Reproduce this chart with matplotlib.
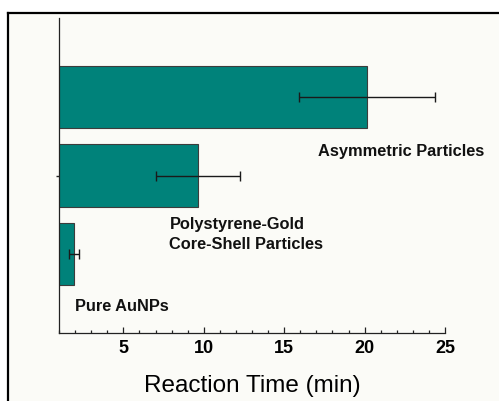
import matplotlib
matplotlib.use("Agg")
import matplotlib.pyplot as plt
from matplotlib.patches import Rectangle
from matplotlib.lines import Line2D
from matplotlib.ticker import MultipleLocator

plt.rcParams['font.family'] = ['Liberation Sans', 'DejaVu Sans']

# Data
categories = ["Pure AuNPs", "Polystyrene-Gold\nCore-Shell Particles", "Asymmetric Particles"]
reaction_time = [1.92, 9.65, 20.15]
reaction_err = [0.32, 2.6, 4.25]
x_ticks = [5, 10, 15, 20, 25]

W, H = 499, 401
fig = plt.figure(figsize=(W / 100, H / 100), dpi=100, facecolor="white")

# Off-white panel with a heavy top/left border
fig.patches.append(Rectangle((8 / W, 0), 1 - 8 / W, 1 - 12.5 / H, transform=fig.transFigure,
                             facecolor="#fbfbf7", edgecolor="none", zorder=-5))
fig.lines.append(Line2D([8 / W, 1], [1 - 12.5 / H, 1 - 12.5 / H], transform=fig.transFigure,
                        color="black", lw=1.6, zorder=-4))
fig.lines.append(Line2D([8 / W, 8 / W], [0, 1 - 12.5 / H], transform=fig.transFigure,
                        color="black", lw=1.6, zorder=-4))

ax = fig.add_axes([59 / W, 1 - 333 / H, (445 - 59) / W, (333 - 18) / H])
ax.set_zorder(2)
ax.set_facecolor("none")

pos = list(range(len(categories)))
ax.barh(pos, reaction_time, height=0.79, color="#00827a", edgecolor="#3c3c3c", linewidth=0.8,
        zorder=2)
ax.errorbar(reaction_time, pos, xerr=reaction_err, fmt="none", ecolor="#1a1a1a",
            elinewidth=1.0, capsize=3.3, capthick=1.0, zorder=3)

ax.set_xlim(1, 25)
ax.set_ylim(-1, 3)

for s in ("top", "right"):
    ax.spines[s].set_visible(False)
for s in ("left", "bottom"):
    ax.spines[s].set_linewidth(0.9)
    ax.spines[s].set_color("#222222")

ax.set_xticks(x_ticks)
ax.xaxis.set_minor_locator(MultipleLocator(1))
ax.tick_params(axis="x", which="major", direction="in", length=4, width=0.9, pad=5,
               labelsize=13, color="#222222")
ax.tick_params(axis="x", which="minor", direction="in", length=2, width=0.9, color="#222222")
for t in ax.get_xticklabels():
    t.set_fontweight("bold")

ax.set_yticks([1])
ax.set_yticklabels([])
ax.tick_params(axis="y", direction="inout", length=4.5, width=1.0, color="#222222")

ax.set_xlabel("Reaction Time (min)", fontsize=17.5, labelpad=13)

# Category labels beside the bars
label_xy = [(2.01, -0.66), (7.87, 0.25), (17.09, 1.30)]
for text, (lx, ly) in zip(categories, label_xy):
    ax.text(lx, ly, text, fontsize=11.8, fontweight="bold", ha="left", va="center",
            linespacing=1.45, color="#111111")

fig.savefig("out.png", dpi=100, facecolor="white")
